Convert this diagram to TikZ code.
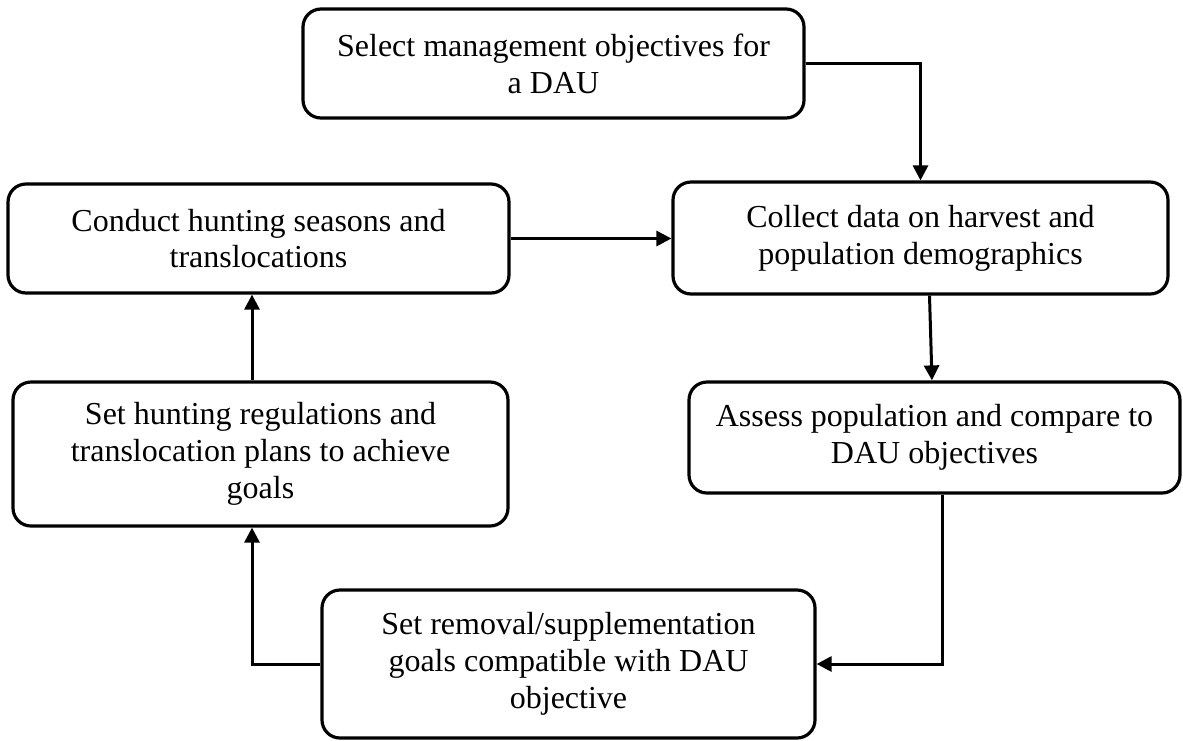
\documentclass[tikz,border=0pt]{standalone}
\usepackage{fontspec}
\setmainfont{Liberation Serif}
\usepackage{tikz}
\usetikzlibrary{arrows.meta,positioning}

\tikzset{
  stepbox/.style={draw,line width=1.6pt,rounded corners=9pt,align=center,
    inner sep=0pt,font=\fontsize{16}{18.4}\selectfont},
  flow/.style={line width=1.5pt,-{Triangle[length=7.5pt,width=7.5pt]}}
}

\begin{document}
\begin{tikzpicture}[x=0.5pt,y=-0.5pt]
  \useasboundingbox (0,0) rectangle (1183,740);
  % Boxes
  \node[stepbox,minimum width=250.5pt,minimum height=54.5pt] (select)  at (553.5,63.5) {Select management objectives for\\a DAU};
  \node[stepbox,minimum width=247.5pt,minimum height=56pt]   (collect) at (920.5,238)  {Collect data on harvest and\\population demographics};
  \node[stepbox,minimum width=250.5pt,minimum height=54.5pt] (conduct) at (258.5,238.5) {Conduct hunting seasons and\\translocations};
  \node[stepbox,minimum width=245.5pt,minimum height=55.5pt] (assess)  at (934.5,437.5) {Assess population and compare to\\DAU objectives};
  \node[stepbox,minimum width=247.5pt,minimum height=72pt]   (setreg)  at (260.5,454)  {Set hunting regulations and\\translocation plans to achieve\\goals};
  \node[stepbox,minimum width=246.5pt,minimum height=74pt]   (setrem)  at (568.5,664)  {Set removal/supplementation\\goals compatible with DAU\\objective};
  % Arrows
  \draw[flow] (select.east) -| (collect.north);
  \draw[flow] (conduct.east) -- (conduct.east -| collect.west);
  \draw[flow] ([xshift=4.5pt]collect.south) -- ([xshift=-1.25pt]assess.north);
  \draw[flow] ([xshift=3.75pt]assess.south) |- (setrem.east);
  \draw[flow] (setrem.west) -| ([xshift=-4.25pt]setreg.south);
  \draw[flow] ([xshift=-4.25pt]setreg.north) -- ([xshift=-3.25pt]conduct.south);
\end{tikzpicture}
\end{document}
